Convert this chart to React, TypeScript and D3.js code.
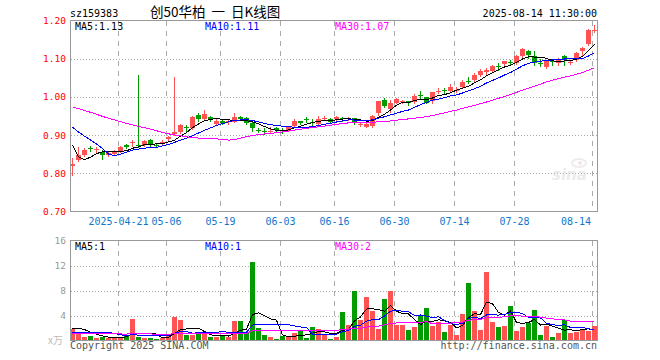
import React from "react";
import * as d3 from "d3";

// trading days shown (2025)
const dates = [
  "04-09","04-10","04-11","04-14","04-15","04-16","04-17","04-18","04-21","04-22","04-23","04-24","04-25","04-28","04-29","04-30",
  "05-06","05-07","05-08","05-09","05-12","05-13","05-14","05-15","05-16","05-19","05-20","05-21","05-22","05-23","05-26","05-27","05-28","05-29","05-30",
  "06-03","06-04","06-05","06-06","06-09","06-10","06-11","06-12","06-13","06-16","06-17","06-18","06-19","06-20","06-23","06-24","06-25","06-26","06-27","06-30",
  "07-01","07-02","07-03","07-04","07-07","07-08","07-09","07-10","07-11","07-14","07-15","07-16","07-17","07-18","07-21","07-22","07-23","07-24","07-25","07-28","07-29","07-30","07-31",
  "08-01","08-04","08-05","08-06","08-07","08-08","08-11","08-12","08-13","08-14",
];

const open = [
  0.820,0.834,0.847,0.866,0.861,0.855,0.849,0.850,0.859,0.873,0.879,0.874,0.874,0.887,0.875,0.878,0.889,0.903,0.909,0.921,
  0.918,0.953,0.942,0.947,0.929,0.937,0.933,0.935,0.947,0.944,0.932,0.914,0.911,0.907,0.918,0.914,0.913,0.924,0.937,0.942,
  0.934,0.929,0.943,0.941,0.941,0.945,0.944,0.944,0.928,0.922,0.925,0.957,0.992,0.968,0.985,0.988,0.988,0.986,1.004,0.999,
  0.988,1.015,1.017,1.016,1.017,1.027,1.041,1.045,1.058,1.065,1.069,1.081,1.085,1.092,1.089,1.108,1.119,1.108,1.090,1.077,
  1.094,1.090,1.108,1.090,1.097,1.119,1.139,1.174,
];
const high = [
  0.840,0.868,0.866,0.871,0.868,0.860,0.856,0.860,0.872,0.876,0.887,1.058,0.887,0.889,0.878,0.886,0.898,1.053,0.928,0.926,
  0.950,0.957,0.965,0.949,0.942,0.940,0.940,0.957,0.950,0.947,0.934,0.919,0.918,0.922,0.920,0.918,0.925,0.941,0.938,0.948,
  0.941,0.950,0.950,0.944,0.950,0.948,0.948,0.945,0.932,0.932,0.952,0.990,0.997,0.992,0.998,0.992,0.990,1.007,1.016,1.000,
  1.014,1.023,1.023,1.034,1.025,1.045,1.051,1.062,1.072,1.075,1.083,1.090,1.094,1.096,1.110,1.127,1.122,1.119,1.099,1.095,
  1.099,1.101,1.110,1.094,1.117,1.130,1.178,1.187,
];
const low = [
  0.795,0.832,0.845,0.858,0.856,0.837,0.846,0.848,0.857,0.865,0.871,0.868,0.872,0.872,0.868,0.876,0.887,0.900,0.905,0.909,
  0.916,0.937,0.940,0.936,0.927,0.930,0.930,0.933,0.939,0.928,0.911,0.907,0.903,0.905,0.910,0.906,0.911,0.922,0.928,0.934,
  0.922,0.926,0.940,0.932,0.939,0.938,0.940,0.928,0.924,0.920,0.922,0.953,0.974,0.961,0.983,0.985,0.978,0.984,0.997,0.983,
  0.983,1.011,1.011,1.013,1.014,1.025,1.036,1.042,1.056,1.060,1.066,1.071,1.082,1.085,1.087,1.102,1.103,1.084,1.080,1.075,
  1.083,1.083,1.083,1.087,1.095,1.110,1.136,1.169,
];
const close = [
  0.824,0.847,0.860,0.864,0.863,0.847,0.853,0.857,0.869,0.868,0.881,0.872,0.885,0.874,0.873,0.883,0.895,0.909,0.926,0.919,
  0.948,0.942,0.955,0.939,0.937,0.932,0.937,0.947,0.941,0.931,0.918,0.912,0.910,0.910,0.913,0.913,0.922,0.937,0.931,0.941,
  0.932,0.941,0.944,0.935,0.947,0.943,0.946,0.935,0.929,0.929,0.950,0.988,0.977,0.983,0.994,0.989,0.983,1.003,1.002,0.985,
  1.012,1.016,1.015,1.026,1.019,1.040,1.040,1.058,1.067,1.071,1.080,1.080,1.093,1.090,1.108,1.125,1.109,1.090,1.088,1.093,
  1.093,1.099,1.097,1.091,1.115,1.128,1.176,1.176,
];
// volume, x万
const volume = [
  1.85,1.38,0.58,0.74,0.42,0.58,0.42,0.53,0.58,0.74,3.44,0.58,0.42,0.42,0.26,0.42,0.90,3.76,3.29,0.90,
  0.90,1.00,1.10,0.58,0.58,0.74,0.58,3.13,3.13,1.38,12.5,2.00,0.90,0.58,0.26,0.74,0.58,1.20,1.50,0.42,
  2.17,1.85,0.90,0.26,0.58,4.56,2.49,7.90,3.29,6.94,4.72,1.85,6.62,7.90,2.49,2.49,1.70,2.17,3.92,5.19,
  2.33,2.97,1.38,2.49,0.90,4.24,9.17,4.72,1.70,10.9,2.97,2.17,2.33,5.50,1.54,2.17,2.80,4.88,0.90,2.33,
  0.58,1.22,3.29,1.22,1.38,1.85,1.54,2.33,
];
// sessions before the window, only feed the moving averages
const priorClose = [
  0.99,1.00,1.01,1.02,1.01,1.00,0.99,1.00,1.01,1.00,0.99,0.98,0.99,1.00,1.01,1.01,1.00,0.99,1.00,1.01,
  0.975,0.97,0.965,0.965,0.965,1.00,0.90,0.83,0.816,
];
const priorVolume = [
  1.2,0.9,1.1,1.3,1.0,0.8,1.2,1.4,1.1,0.9,1.0,1.3,1.2,1.0,0.9,1.1,1.2,1.0,1.3,1.3,
  0.6,0.7,0.7,0.6,0.75,0.9,1.6,3.0,2.0,
];

const tickDates = ["04-21","05-06","05-19","06-03","06-16","06-30","07-14","07-28","08-14"];
const tickLabels = ["2025-04-21","05-06","05-19","06-03","06-16","06-30","07-14","07-28","08-14"];
const priceTicks = [1.2, 1.1, 1.0, 0.9, 0.8, 0.7];
const volTicks = [16, 12, 8, 4];
const volMaText = ["MA5:1", "MA10:1", "MA30:2"];

const RED = "#ff5252";
const GREEN = "#009c00";
const MONO = "'DejaVu Sans Mono', monospace";

function movingAvg(prior: number[], vals: number[], n: number) {
  const all = prior.concat(vals);
  return vals.map((_, i) => {
    const end = i + prior.length;
    return d3.mean(all.slice(end - n + 1, end + 1)) as number;
  });
}

export default function App() {
  const left = 70;
  const x = d3.scaleBand<string>().domain(dates).range([left, left + 6 * dates.length]);
  const y = d3.scaleLinear().domain([0.7, 1.2]).range([211.5, 20.5]);
  const yv = d3.scaleLinear().domain([0, 16]).range([340.5, 240.5]);
  const right = 597.5;
  const cx = (i: number) => (x(dates[i]) as number) + 2.5;

  const ma = [5, 10, 30].map((n) => movingAvg(priorClose, close, n));
  const vma = [5, 10, 30].map((n) => movingAvg(priorVolume, volume, n));
  const maColors = ["#000000", "#0000ff", "#ff00ff"];
  const trunc = (v: number) => (Math.floor(v * 100 + 1e-6) / 100).toFixed(2);

  const priceLine = d3.line<number>().x((_, i) => cx(i)).y((d) => y(d));
  const volLine = d3.line<number>().x((_, i) => cx(i)).y((d) => yv(d));

  const labelX = [75, 205, 335];

  return (
    <svg width={660} height={360} style={{ position: "absolute", left: 0, top: 0, background: "#fff" }}>
      {/* header */}
      <text x={70} y={16.5} fontFamily={MONO} fontSize={10}>sz159383</text>
      <text x={150} y={17} fontFamily="'Noto Sans CJK SC', sans-serif" fontSize={13.5} xmlSpace="preserve">创50华柏  一  日K线图</text>
      <text x={597} y={16.5} fontFamily={MONO} fontSize={10} textAnchor="end">2025-08-14 11:30:00</text>

      {/* grids */}
      {tickDates.map((d) => {
        const gx = Math.round(x(d) as number) + 0.5;
        return (
          <g key={d} stroke="#aaa" strokeDasharray="5,5">
            <line x1={gx} x2={gx} y1={21} y2={211} />
            <line x1={gx} x2={gx} y1={241} y2={340} />
          </g>
        );
      })}
      {priceTicks.slice(1, -1).map((v) => (
        <line key={v} x1={71} x2={597} y1={Math.round(y(v)) + 0.5} y2={Math.round(y(v)) + 0.5} stroke="#aaa" strokeDasharray="1,2" />
      ))}
      {volTicks.slice(1).map((v) => (
        <line key={v} x1={71} x2={597} y1={Math.round(yv(v)) + 0.5} y2={Math.round(yv(v)) + 0.5} stroke="#aaa" strokeDasharray="1,2" />
      ))}

      {/* sina watermark */}
      <g opacity={0.5}>
        <ellipse cx={579} cy={163} rx={7} ry={4} fill="none" stroke="#ddd" strokeWidth={2} />
        <circle cx={580} cy={163} r={2} fill="#f2c6c6" />
        <text x={552} y={180} fontFamily="'DejaVu Sans', sans-serif" fontStyle="italic" fontWeight="bold" fontSize={15} fill="#d8d8d8">sina</text>
      </g>

      {/* candles */}
      {dates.map((d, i) => {
        const up = close[i] >= open[i];
        const c = up ? RED : GREEN;
        const x0 = x(d) as number;
        const top = Math.round(y(Math.max(open[i], close[i])));
        const bot = Math.round(y(Math.min(open[i], close[i])));
        return (
          <g key={d} shapeRendering="crispEdges">
            <line x1={x0 + 2.5} x2={x0 + 2.5} y1={Math.round(y(high[i]))} y2={Math.round(y(low[i])) + 1} stroke={c} />
            {bot - top < 1 ? (
              <line x1={x0} x2={x0 + 5} y1={top + 0.5} y2={top + 0.5} stroke={c} />
            ) : (
              <rect x={x0} y={top} width={5} height={bot - top} fill={c} />
            )}
          </g>
        );
      })}
      {ma.map((m, k) => (
        <path key={k} d={priceLine(m) as string} fill="none" stroke={maColors[k]} strokeWidth={1} shapeRendering="crispEdges" />
      ))}

      {/* volume */}
      {dates.map((d, i) => {
        const top = Math.round(yv(volume[i]));
        return (
          <rect key={d} x={x(d) as number} y={top} width={5} height={340 - top}
            fill={close[i] >= open[i] ? RED : GREEN} shapeRendering="crispEdges" />
        );
      })}
      {vma.map((m, k) => (
        <path key={k} d={volLine(m) as string} fill="none" stroke={maColors[k]} strokeWidth={1} shapeRendering="crispEdges" />
      ))}

      {/* frames */}
      <rect x={70.5} y={20.5} width={right - 70.5} height={191} fill="none" stroke="#999" />
      <rect x={70.5} y={240.5} width={right - 70.5} height={100} fill="none" stroke="#999" />

      {/* MA labels */}
      {["MA5:", "MA10:", "MA30:"].map((t, k) => (
        <text key={t} x={labelX[k]} y={30} fontFamily={MONO} fontSize={10} fill={maColors[k]}>
          {t + trunc(ma[k][ma[k].length - 1])}
        </text>
      ))}
      {volMaText.map((t, k) => (
        <text key={t} x={labelX[k]} y={249.5} fontFamily={MONO} fontSize={10} fill={maColors[k]}>{t}</text>
      ))}

      {/* axes labels */}
      {priceTicks.map((v) => (
        <text key={v} x={66} y={y(v) + 3.5} textAnchor="end" fontFamily={MONO} fontSize={9.5} fill="#ff0000">{v.toFixed(2)}</text>
      ))}
      {volTicks.map((v) => (
        <text key={v} x={66} y={yv(v) + 3.5} textAnchor="end" fontFamily={MONO} fontSize={9.5} fill="#999">{v}</text>
      ))}
      <text x={48} y={344} fontFamily="'Noto Sans CJK SC', sans-serif" fontSize={10} fill="#bbb">x万</text>
      {tickDates.map((d, k) => {
        const gx = (x(d) as number) + 0.5;
        const w = tickLabels[k].length * 6;
        const overflow = gx + w / 2 > 592;
        return (
          <text key={d} x={overflow ? 591 : gx} y={224.5} textAnchor={overflow ? "end" : "middle"}
            fontFamily={MONO} fontSize={10} fill="#1177cc">{tickLabels[k]}</text>
        );
      })}

      <text x={70} y={348.5} fontFamily={MONO} fontSize={10} fill="#555">Copyright 2025 SINA.COM</text>
      <text x={597} y={348.5} textAnchor="end" fontFamily={MONO} fontSize={10} fill="#555">http://finance.sina.com.cn</text>
    </svg>
  );
}
